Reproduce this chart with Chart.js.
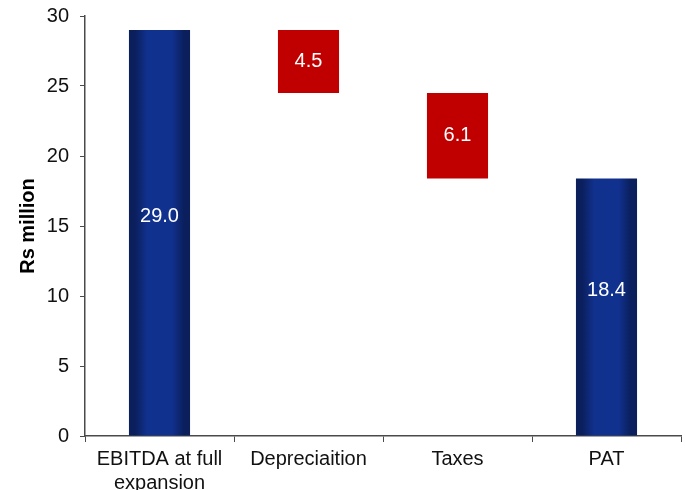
<!DOCTYPE html>
<html>
<head>
<meta charset="utf-8">
<script src="https://cdn.jsdelivr.net/npm/chart.js@4/dist/chart.umd.min.js"></script>
<style>
  html, body { margin: 0; padding: 0; background: #fff; }
  #wrap { width: 686px; height: 490px; }
</style>
</head>
<body>
<div id="wrap"><canvas id="waterfall" width="686" height="490"></canvas></div>
<script>
// ---------- DATA ----------
const categories = [["EBITDA at full", "expansion"], "Depreciaition", "Taxes", "PAT"];
const changes = [29.0, -4.5, -6.1, 18.4];      // step values in Rs million
const isTotal = [true, false, false, true];    // totals start at zero
const yTicks = [0, 5, 10, 15, 20, 25, 30];

// build floating [from, to] pairs for the waterfall
let running = 0;
const ranges = changes.map((v, i) => {
    if (isTotal[i]) { running = v; return [0, v]; }
    const from = running;
    running = running + v;
    return [running, from];
});

const NAVY_DARK = "#0a1f5c";
const NAVY_LIGHT = "#11318f";
const RED = "#c00000";
const BAR_PCT = 0.41;
const FONT = "'Liberation Sans', Arial, sans-serif";

function barFill(ctx) {
    const i = ctx.dataIndex;
    if (!isTotal[i]) return RED;
    const chart = ctx.chart;
    if (!chart.chartArea || !chart.scales.x) return NAVY_DARK;
    const x = chart.scales.x;
    const center = x.getPixelForValue(i);
    const half = (x.width / categories.length) * BAR_PCT / 2;
    const g = chart.ctx.createLinearGradient(center - half, 0, center + half, 0);
    g.addColorStop(0, NAVY_DARK);
    g.addColorStop(0.1, NAVY_DARK);
    g.addColorStop(0.3, NAVY_LIGHT);
    g.addColorStop(0.7, NAVY_LIGHT);
    g.addColorStop(0.9, NAVY_DARK);
    g.addColorStop(1, NAVY_DARK);
    return g;
}

// white value labels inside each bar
const valueLabels = {
    id: "valueLabels",
    afterDatasetsDraw(chart) {
        const c = chart.ctx;
        const meta = chart.getDatasetMeta(0);
        c.save();
        c.fillStyle = "#ffffff";
        c.font = "20px " + FONT;
        c.textAlign = "center";
        c.textBaseline = "middle";
        meta.data.forEach((bar, i) => {
            const p = bar.getProps(["x", "y", "base"], true);
            let y = (p.y + p.base) / 2;
            if (isTotal[i]) y -= 16;
            c.fillText(Math.abs(changes[i]).toFixed(1), p.x, y);
        });
        c.restore();
    }
};

const axisColor = "#4a4a4a";
const tickFont = { family: FONT, size: 20 };

new Chart(document.getElementById("waterfall").getContext("2d"), {
    type: "bar",
    data: {
        labels: categories,
        datasets: [{
            data: ranges,
            backgroundColor: barFill,
            borderWidth: 0,
            barPercentage: BAR_PCT,
            categoryPercentage: 1.0
        }]
    },
    options: {
        responsive: false,
        animation: false,
        layout: { padding: { top: 16, right: 5, left: 16, bottom: 0 } },
        plugins: {
            legend: { display: false },
            tooltip: { enabled: false }
        },
        scales: {
            x: {
                grid: {
                    display: true,
                    drawOnChartArea: false,
                    drawTicks: true,
                    tickLength: 6,
                    color: axisColor,
                    offset: true
                },
                border: { color: axisColor, width: 1.5 },
                ticks: {
                    color: "#111",
                    font: tickFont,
                    padding: 5,
                    maxRotation: 0,
                    autoSkip: false
                },
                afterFit(scale) {
                    scale.height = 54;
                    scale.paddingLeft = 0;
                    scale.paddingRight = 0;
                }
            },
            y: {
                min: 0,
                max: 30,
                afterBuildTicks(scale) { scale.ticks = yTicks.map(v => ({ value: v })); },
                grid: {
                    display: true,
                    drawOnChartArea: false,
                    drawTicks: true,
                    tickLength: 5,
                    color: axisColor
                },
                border: { color: axisColor, width: 1.5 },
                ticks: {
                    color: "#111",
                    font: tickFont,
                    padding: 11
                },
                title: {
                    display: true,
                    text: "Rs million",
                    color: "#000",
                    font: { family: FONT, size: 20, weight: "bold" },
                    padding: { top: 0, bottom: 0 }
                },
                afterFit(scale) {
                    scale.width = 69;
                    scale.paddingTop = 0;
                    scale.paddingBottom = 0;
                }
            }
        }
    },
    plugins: [valueLabels]
});
</script>
</body>
</html>
